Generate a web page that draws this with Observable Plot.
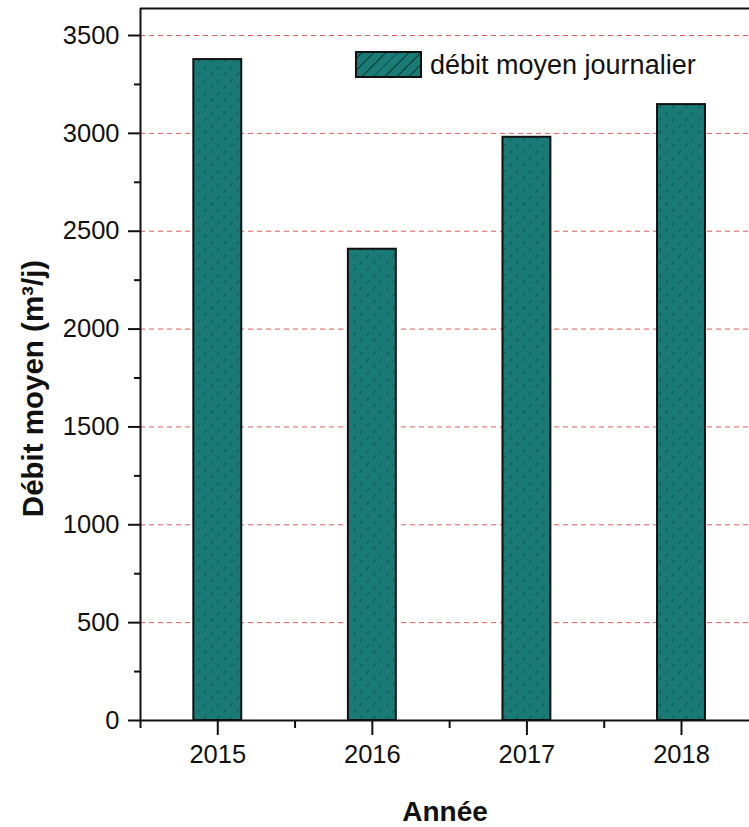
<!DOCTYPE html>
<html>
<head>
<meta charset="utf-8">
<script src="https://cdn.jsdelivr.net/npm/d3@7"></script>
<script src="https://cdn.jsdelivr.net/npm/@observablehq/plot@0.6"></script>
<style>
  html, body { margin: 0; padding: 0; background: #fff; }
  #wrap { position: relative; width: 749px; height: 827px; font-family: Arial, "Liberation Sans", sans-serif; }
  #legend { position: absolute; left: 355px; top: 51px; display: flex; align-items: center; }
  #legend .sw { width: 63px; height: 23px; border: 2px solid #111;
    background-color: #1a7a76;
    background-image: repeating-linear-gradient(-45deg, transparent 0 7px, #0c4a47 7px 8.3px); }
  #legend .lab { margin-left: 8px; font-size: 27px; color: #111; line-height: 26px; }
</style>
</head>
<body>
<div id="wrap"></div>
<script>
const years = [2015, 2016, 2017, 2018];
const debit = [3377, 2408, 2980, 3147];
const yTicks = [0, 500, 1000, 1500, 2000, 2500, 3000, 3500];
const yMinorTicks = [250, 750, 1250, 1750, 2250, 2750, 3250];
const xTicks = [2015, 2016, 2017, 2018];
const xMinorTicks = [2014.5, 2015.5, 2016.5, 2017.5];
const seriesLabel = "débit moyen journalier";
const xTitle = "Année";
const yTitle = "Débit moyen (m³/j)";

const xDomain = [2014.5, 2018.44];
const yDomain = [0, 3638];
const halfBar = 0.155;

const data = years.map((year, i) => ({year, value: debit[i]}));

const chart = Plot.plot({
  width: 749,
  height: 827,
  marginLeft: 140,
  marginRight: 0,
  marginTop: 8,
  marginBottom: 107,
  style: {fontFamily: "Arial, 'Liberation Sans', sans-serif", background: "white", color: "#111"},
  x: {domain: xDomain},
  y: {domain: yDomain},
  marks: [
    Plot.ruleY(yTicks.filter(v => v > 0), {stroke: "#e05a5a", strokeDasharray: "5,4", strokeWidth: 1}),
    Plot.rectY(data, {x1: d => d.year - halfBar, x2: d => d.year + halfBar, y1: 0, y2: "value",
      fill: "url(#hatch)", stroke: "#111", strokeWidth: 2}),
    Plot.axisY({ticks: yTicks, tickSize: 12, tickPadding: 9, fontSize: 25.5, strokeWidth: 2,
      label: null, tickFormat: d => String(d)}),
    Plot.axisY({ticks: yMinorTicks, tickSize: 6, strokeWidth: 2, label: null, tickFormat: () => ""}),
    Plot.axisX({ticks: xTicks, tickSize: 15, tickPadding: 9, fontSize: 25.5, strokeWidth: 2,
      label: null, tickFormat: d => String(d)}),
    Plot.axisX({ticks: xMinorTicks, tickSize: 8, strokeWidth: 2, label: null, tickFormat: () => ""}),
    Plot.ruleX([xDomain[0]], {stroke: "#111", strokeWidth: 2}),
    Plot.ruleY([0], {stroke: "#111", strokeWidth: 2}),
    Plot.ruleY([yDomain[1]], {stroke: "#111", strokeWidth: 2}),
    Plot.text([xTitle], {frameAnchor: "bottom", dy: 100, lineAnchor: "bottom", fontSize: 28, fontWeight: "bold", fill: "#111"}),
    Plot.text([yTitle], {frameAnchor: "left", textAnchor: "middle", dx: -107, dy: 24, rotate: -90, fontSize: 29.5, fontWeight: "bold", fill: "#111"})
  ]
});

// hatch pattern
const ns = "http://www.w3.org/2000/svg";
const defs = document.createElementNS(ns, "defs");
defs.innerHTML = `<pattern id="hatch" patternUnits="userSpaceOnUse" width="13" height="13">
  <rect width="13" height="13" fill="#1a7a76"/>
  <line x1="2.5" y1="10.5" x2="5" y2="7.5" stroke="#0f5552" stroke-width="1.1"/>
  <line x1="9" y1="4" x2="11.5" y2="1" stroke="#0f5552" stroke-width="1.1"/>
</pattern>`;
chart.insertBefore(defs, chart.firstChild);

const wrap = document.getElementById("wrap");
wrap.appendChild(chart);

const legend = document.createElement("div");
legend.id = "legend";
legend.innerHTML = `<span class="sw"></span><span class="lab"></span>`;
legend.querySelector(".lab").textContent = seriesLabel;
wrap.appendChild(legend);
</script>
</body>
</html>
